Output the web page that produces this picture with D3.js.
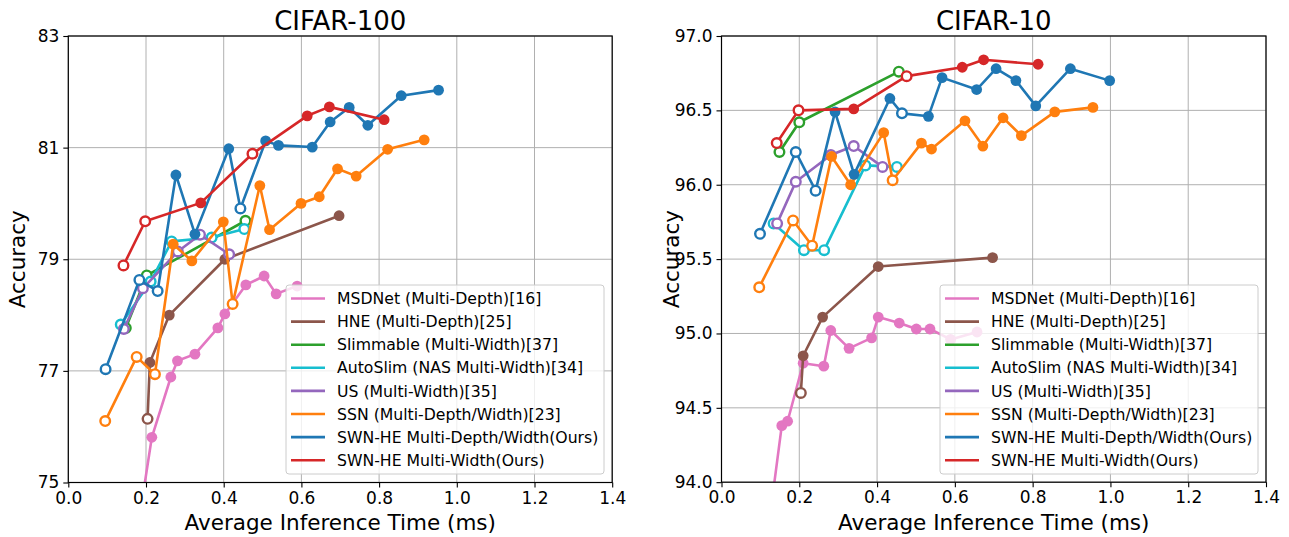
<!DOCTYPE html>
<html><head><meta charset="utf-8">
<script src="https://cdn.jsdelivr.net/npm/d3@7"></script>
<style>body{margin:0;background:#fff} svg{display:block} text{font-family:"DejaVu Sans",sans-serif;fill:#000}</style>
</head><body><svg id="c" width="1289" height="537"></svg>
<script>
// ---------- shared ----------
const seriesNames = ["MSDNet (Multi-Depth)[16]","HNE (Multi-Depth)[25]","Slimmable (Multi-Width)[37]","AutoSlim (NAS Multi-Width)[34]","US (Multi-Width)[35]","SSN (Multi-Depth/Width)[23]","SWN-HE Multi-Depth/Width(Ours)","SWN-HE Multi-Width(Ours)"];
const seriesColors = ["#e377c2","#8c564b","#2ca02c","#17becf","#9467bd","#ff7f0e","#1f77b4","#d62728"];
const xTicks = [0.0,0.2,0.4,0.6,0.8,1.0,1.2,1.4];
const c100YTicks = [75,77,79,81,83];
const c10YTicks = [94.0,94.5,95.0,95.5,96.0,96.5,97.0];

// ---------- CIFAR-100 ----------
const c100MSDNet = [[0.175,74.0],[0.215,75.81],[0.264,76.89],[0.281,77.18],[0.326,77.30],[0.385,77.77],[0.403,78.02],[0.457,78.54],[0.504,78.70],[0.535,78.38],[0.589,78.52]];
const c100MSDNetOpen = [0,0,0,0,0,0,0,0,0,0,0];
const c100HNE = [[0.204,76.14],[0.210,77.15],[0.260,78.00],[0.403,79.00],[0.697,79.78]];
const c100HNEOpen = [1,0,0,0,0];
const c100Slim = [[0.148,77.77],[0.202,78.71],[0.456,79.69]];
const c100SlimOpen = [1,1,1];
const c100Auto = [[0.135,77.83],[0.212,78.60],[0.266,79.32],[0.369,79.39],[0.453,79.54]];
const c100AutoOpen = [1,1,1,1,1];
const c100US = [[0.143,77.75],[0.192,78.48],[0.282,79.14],[0.339,79.44],[0.414,79.09]];
const c100USOpen = [1,1,1,1,1];
const c100SSN = [[0.095,76.10],[0.176,77.25],[0.223,76.94],[0.270,79.27],[0.318,78.97],[0.399,79.67],[0.423,78.20],[0.493,80.32],[0.518,79.53],[0.599,80.00],[0.646,80.12],[0.693,80.62],[0.741,80.49],[0.822,80.97],[0.916,81.14]];
const c100SSNOpen = [1,1,1,0,0,0,1,0,0,0,0,0,0,0,0];
const c100SwnDW = [[0.096,77.03],[0.183,78.63],[0.230,78.43],[0.277,80.51],[0.326,79.45],[0.413,80.98],[0.443,79.91],[0.508,81.12],[0.541,81.04],[0.628,81.01],[0.674,81.46],[0.723,81.72],[0.771,81.40],[0.857,81.93],[0.953,82.03]];
const c100SwnDWOpen = [1,1,1,0,0,0,1,0,0,0,0,0,0,0,0];
const c100SwnW = [[0.142,78.89],[0.198,79.68],[0.341,80.01],[0.474,80.89],[0.615,81.57],[0.672,81.73],[0.813,81.50]];
const c100SwnWOpen = [1,1,0,1,0,0,0];

// ---------- CIFAR-10 ----------
const c10MSDNet = [[0.126,93.80],[0.155,94.38],[0.170,94.41],[0.210,94.80],[0.263,94.78],[0.281,95.02],[0.328,94.90],[0.386,94.97],[0.403,95.11],[0.457,95.07],[0.501,95.03],[0.536,95.03],[0.589,94.96],[0.657,95.01]];
const c10MSDNetOpen = [0,0,0,0,0,0,0,0,0,0,0,0,0,0];
const c10HNE = [[0.204,94.60],[0.210,94.85],[0.260,95.11],[0.403,95.45],[0.697,95.51]];
const c10HNEOpen = [1,0,0,0,0];
const c10Slim = [[0.149,96.22],[0.200,96.42],[0.456,96.76]];
const c10SlimOpen = [1,1,1];
const c10Auto = [[0.134,95.74],[0.212,95.56],[0.264,95.56],[0.370,96.13],[0.451,96.12]];
const c10AutoOpen = [1,1,1,1,1];
const c10US = [[0.143,95.74],[0.191,96.02],[0.281,96.20],[0.340,96.26],[0.414,96.12]];
const c10USOpen = [1,1,1,1,1];
const c10SSN = [[0.097,95.31],[0.184,95.76],[0.233,95.59],[0.283,96.19],[0.332,96.00],[0.417,96.35],[0.440,96.03],[0.514,96.28],[0.540,96.24],[0.626,96.43],[0.672,96.26],[0.724,96.45],[0.771,96.33],[0.857,96.49],[0.955,96.52]];
const c10SSNOpen = [1,1,1,0,0,0,1,0,0,0,0,0,0,0,0];
const c10SwnDW = [[0.099,95.67],[0.191,96.22],[0.242,95.96],[0.292,96.49],[0.341,96.07],[0.433,96.58],[0.464,96.48],[0.532,96.46],[0.567,96.72],[0.656,96.64],[0.706,96.78],[0.757,96.70],[0.808,96.53],[0.897,96.78],[0.998,96.70]];
const c10SwnDWOpen = [1,1,1,0,0,0,1,0,0,0,0,0,0,0,0];
const c10SwnW = [[0.142,96.28],[0.198,96.50],[0.340,96.51],[0.476,96.73],[0.619,96.79],[0.674,96.84],[0.814,96.81]];
const c10SwnWOpen = [1,1,0,1,0,0,0];

const charts = [
  {title:"CIFAR-100", left:68.3, right:612.2, top:36, bottom:482.5, yDomain:[75,83], yTicks:c100YTicks, yFmt:d3.format("d"), legendX:286,
   series:[[c100MSDNet,c100MSDNetOpen],[c100HNE,c100HNEOpen],[c100Slim,c100SlimOpen],[c100Auto,c100AutoOpen],[c100US,c100USOpen],[c100SSN,c100SSNOpen],[c100SwnDW,c100SwnDWOpen],[c100SwnW,c100SwnWOpen]]},
  {title:"CIFAR-10", left:721.5, right:1266, top:36, bottom:482.2, yDomain:[94,97], yTicks:c10YTicks, yFmt:d3.format(".1f"), legendX:940,
   series:[[c10MSDNet,c10MSDNetOpen],[c10HNE,c10HNEOpen],[c10Slim,c10SlimOpen],[c10Auto,c10AutoOpen],[c10US,c10USOpen],[c10SSN,c10SSNOpen],[c10SwnDW,c10SwnDWOpen],[c10SwnW,c10SwnWOpen]]}
];

const svg = d3.select("#c");

charts.forEach((ch, ci) => {
  const x = d3.scaleLinear().domain([0,1.4]).range([ch.left, ch.right]);
  const y = d3.scaleLinear().domain(ch.yDomain).range([ch.bottom, ch.top]);
  const g = svg.append("g");
  const clipId = "clip" + ci;
  svg.append("clipPath").attr("id", clipId).append("rect")
    .attr("x", ch.left).attr("y", ch.top).attr("width", ch.right - ch.left).attr("height", ch.bottom - ch.top);

  // grid
  g.append("g").selectAll("line").data(xTicks).join("line")
    .attr("x1", d => x(d)).attr("x2", d => x(d)).attr("y1", ch.top).attr("y2", ch.bottom)
    .attr("stroke", "#b0b0b0").attr("stroke-width", 1);
  g.append("g").selectAll("line").data(ch.yTicks).join("line")
    .attr("y1", d => y(d)).attr("y2", d => y(d)).attr("x1", ch.left).attr("x2", ch.right)
    .attr("stroke", "#b0b0b0").attr("stroke-width", 1);

  // series
  const plot = g.append("g").attr("clip-path", `url(#${clipId})`);
  const line = d3.line().x(d => x(d[0])).y(d => y(d[1]));
  ch.series.forEach(([pts, open], si) => {
    const col = seriesColors[si];
    plot.append("path").datum(pts).attr("d", line).attr("fill", "none")
      .attr("stroke", col).attr("stroke-width", 2.6).attr("stroke-linejoin", "round");
    plot.append("g").selectAll("circle").data(pts).join("circle")
      .attr("cx", d => x(d[0])).attr("cy", d => y(d[1]))
      .attr("r", (d, i) => open[i] ? 4.8 : 5.4)
      .attr("fill", (d, i) => open[i] ? "#fff" : col)
      .attr("stroke", col).attr("stroke-width", (d, i) => open[i] ? 2.4 : 0);
  });

  // axes
  const xAxis = d3.axisBottom(x).tickValues(xTicks).tickFormat(d3.format(".1f")).tickSize(5).tickPadding(4);
  const yAxis = d3.axisLeft(y).tickValues(ch.yTicks).tickFormat(ch.yFmt).tickSize(5).tickPadding(4);
  const gx = g.append("g").attr("transform", `translate(0,${ch.bottom})`).call(xAxis);
  const gy = g.append("g").attr("transform", `translate(${ch.left},0)`).call(yAxis);
  [gx, gy].forEach(a => {
    a.select(".domain").remove();
    a.selectAll(".tick line").attr("stroke", "#000").attr("stroke-width", 1.1);
    a.selectAll(".tick text").attr("font-size", 17).attr("font-family", "DejaVu Sans").attr("fill", "#000");
  });
  // frame
  g.append("rect").attr("x", ch.left).attr("y", ch.top).attr("width", ch.right - ch.left).attr("height", ch.bottom - ch.top)
    .attr("fill", "none").attr("stroke", "#000").attr("stroke-width", 1.2);

  // title and labels
  const cx = (ch.left + ch.right) / 2;
  g.append("text").attr("x", cx).attr("y", 30).attr("text-anchor", "middle").attr("font-size", 26).text(ch.title);
  g.append("text").attr("x", cx).attr("y", 530).attr("text-anchor", "middle").attr("font-size", 21.5).text("Average Inference Time (ms)");
  g.append("text").attr("transform", `translate(${ci === 0 ? 25 : 679},${(ch.top + ch.bottom) / 2}) rotate(-90)`)
    .attr("text-anchor", "middle").attr("font-size", 21.5).text("Accuracy");

  // legend
  const lg = g.append("g").attr("transform", `translate(${ch.legendX},285)`);
  lg.append("rect").attr("x", 0).attr("y", 0).attr("width", 318).attr("height", 189).attr("rx", 3)
    .attr("fill", "#fff").attr("fill-opacity", 0.8).attr("stroke", "#cccccc").attr("stroke-width", 1);
  seriesNames.forEach((n, i) => {
    const yy = 13.5 + i * 23.1;
    lg.append("line").attr("x1", 5).attr("x2", 39).attr("y1", yy).attr("y2", yy)
      .attr("stroke", seriesColors[i]).attr("stroke-width", 2.6);
    lg.append("text").attr("x", 51).attr("y", yy + 5.6).attr("font-size", 15.7).text(n);
  });
});
</script>
</body></html>
